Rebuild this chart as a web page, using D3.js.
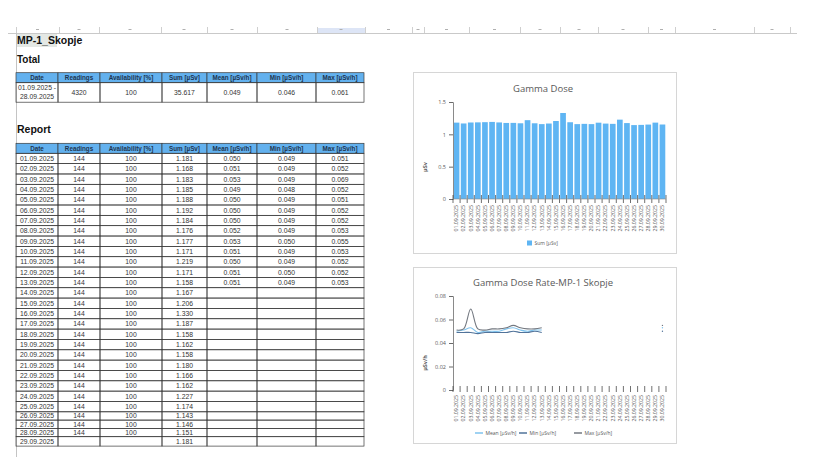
<!DOCTYPE html><html><head><meta charset="UTF-8"><script src="https://d3js.org/d3.v7.min.js"></script><style>
body { margin: 0; background: #fff; }
svg { display: block; }
.sheet { font-family: "Liberation Sans", Arial, sans-serif; }
.chartText { font-family: "Open Sans", "Liberation Sans", sans-serif; fill: #595959; }
</style></head><body><div id="chart"></div><script>
// ---- data ----
const headers = ["Date", "Readings", "Availability [%]", "Sum [µSv]", "Mean [µSv/h]", "Min [µSv/h]", "Max [µSv/h]"];
const totalRow = [["01.09.2025 -", "28.09.2025"], "4320", "100", "35.617", "0.049", "0.046", "0.061"];

const chartDates = ["01.09.2025", "02.09.2025", "03.09.2025", "04.09.2025", "05.09.2025", "06.09.2025",
  "07.09.2025", "08.09.2025", "09.09.2025", "10.09.2025", "11.09.2025", "12.09.2025", "13.09.2025",
  "14.09.2025", "15.09.2025", "16.09.2025", "17.09.2025", "18.09.2025", "19.09.2025", "20.09.2025",
  "21.09.2025", "22.09.2025", "23.09.2025", "24.09.2025", "25.09.2025", "26.09.2025", "27.09.2025",
  "28.09.2025", "29.09.2025", "30.09.2025"];
const readings = [144, 144, 144, 144, 144, 144, 144, 144, 144, 144, 144, 144, 144, 144,
  144, 144, 144, 144, 144, 144, 144, 144, 144, 144, 144, 144, 144, 144, null];
const availability = [100, 100, 100, 100, 100, 100, 100, 100, 100, 100, 100, 100, 100, 100,
  100, 100, 100, 100, 100, 100, 100, 100, 100, 100, 100, 100, 100, 100, null];
const sums = [1.181, 1.168, 1.183, 1.185, 1.188, 1.192, 1.184, 1.176, 1.177, 1.171, 1.219, 1.171,
  1.158, 1.167, 1.206, 1.330, 1.187, 1.158, 1.162, 1.158, 1.180, 1.166, 1.162, 1.227, 1.174,
  1.143, 1.146, 1.151, 1.181, 1.152];
const means = [0.050, 0.051, 0.053, 0.049, 0.050, 0.050, 0.050, 0.052, 0.053, 0.051, 0.050, 0.051, 0.051,
  null, null, null, null, null, null, null, null, null, null, null, null, null, null, null, null, 0.053];
const mins = [0.049, 0.049, 0.049, 0.048, 0.049, 0.049, 0.049, 0.049, 0.050, 0.049, 0.049, 0.050, 0.049,
  null, null, null, null, null, null, null, null, null, null, null, null, null, null, null, null, 0.050];
const maxs = [0.051, 0.052, 0.069, 0.052, 0.051, 0.052, 0.052, 0.053, 0.055, 0.053, 0.052, 0.052, 0.053,
  null, null, null, null, null, null, null, null, null, null, null, null, null, null, null, null, 0.055];
const tableRows = 29;
const doseTicks = [0, 0.5, 1, 1.5];
const rateTicks = [0, 0.02, 0.04, 0.06, 0.08];
const rateSeries = [
  {name: "Mean [µSv/h]", values: means, color: "#7fc3ee"},
  {name: "Min [µSv/h]", values: mins, color: "#51739a"},
  {name: "Max [µSv/h]", values: maxs, color: "#737880"}
];

const svg = d3.select('#chart').append('svg')
  .attr('width', 821).attr('height', 457);

// ---- sheet chrome ----
const sheetTop = svg.append('g').attr('class', 'sheet');
const colMarks = [16, 59, 99, 161, 207, 257, 317, 365, 412, 424, 469, 520, 560, 598, 648, 675, 754, 790];
sheetTop.append('rect').attr('x', 317).attr('y', 28).attr('width', 48).attr('height', 5).attr('fill', '#dde5f6');
sheetTop.append('line').attr('x1', 8).attr('x2', 797).attr('y1', 33.5).attr('y2', 33.5).attr('stroke', '#c9c9c9');
sheetTop.selectAll('.sep').data(colMarks).enter().append('line')
  .attr('x1', d => d + 0.5).attr('x2', d => d + 0.5).attr('y1', 27).attr('y2', 33)
  .attr('stroke', '#cfcfcf');
sheetTop.selectAll('.dash').data(d3.pairs(colMarks)).enter().append('line')
  .attr('x1', d => (d[0] + d[1]) / 2 - 1.5).attr('x2', d => (d[0] + d[1]) / 2 + 1.5)
  .attr('y1', 29.5).attr('y2', 29.5).attr('stroke', '#b0b0b0');
sheetTop.append('line').attr('x1', 16.5).attr('x2', 16.5).attr('y1', 33).attr('y2', 457).attr('stroke', '#c4c4c4');
sheetTop.append('rect').attr('x', 17).attr('y', 34).attr('width', 40).attr('height', 13).attr('fill', '#e4e8e4');

sheetTop.append('text').attr('x', 17).attr('y', 44).attr('font-size', 10.5).attr('font-weight', 'bold')
  .attr('fill', '#111').text('MP-1_Skopje');
sheetTop.append('text').attr('x', 17).attr('y', 63).attr('font-size', 10).attr('font-weight', 'bold')
  .attr('fill', '#111').text('Total');
sheetTop.append('text').attr('x', 17).attr('y', 133).attr('font-size', 10.5).attr('font-weight', 'bold')
  .attr('fill', '#111').text('Report');

// ---- tables ----
const colEdges = [16, 58, 100, 162, 207, 257, 316, 364];
const colMid = i => (colEdges[i] + colEdges[i + 1]) / 2;

function headerRow(g, y, h) {
  g.selectAll('.hcell').data(headers).enter().append('rect')
    .attr('x', (d, i) => colEdges[i]).attr('y', y)
    .attr('width', (d, i) => colEdges[i + 1] - colEdges[i]).attr('height', h)
    .attr('fill', '#63b1ee').attr('stroke', '#3a3a3a').attr('stroke-width', 0.7);
  g.selectAll('.htext').data(headers).enter().append('text')
    .attr('x', (d, i) => colMid(i)).attr('y', y + h / 2 + 2.3)
    .attr('text-anchor', 'middle').attr('font-size', 6.3).attr('font-weight', 'bold')
    .attr('fill', '#1d3550').text(d => d);
}

function cellRow(g, y, h, cells, baseline) {
  cells.forEach((c, i) => {
    g.append('rect').attr('x', colEdges[i]).attr('y', y)
      .attr('width', colEdges[i + 1] - colEdges[i]).attr('height', h)
      .attr('fill', 'none').attr('stroke', '#3a3a3a').attr('stroke-width', 0.7);
    if (c == null) return;
    const lines = Array.isArray(c) ? c : [c];
    lines.forEach((t, k) => {
      g.append('text').attr('x', colMid(i))
        .attr('y', lines.length > 1 ? y + 7.5 + k * 8.5 : baseline)
        .attr('text-anchor', 'middle').attr('font-size', 6.8).attr('fill', '#333').text(t);
    });
  });
}

const totalG = svg.append('g').attr('class', 'sheet');
headerRow(totalG, 72.7, 10);
cellRow(totalG, 82.7, 19.5, totalRow, 95);

const reportG = svg.append('g').attr('class', 'sheet');
headerRow(reportG, 143.3, 10);
const fmt = d3.format('.3f');
let rowTop = 153.3;
for (let i = 0; i < tableRows; i++) {
  const h = (i >= 25 && i <= 27) ? 8.3 : (i === 28 ? 9.4 : 10.34);
  const baseline = Math.min(rowTop + h / 2 + 2.4, rowTop + h - 0.6);
  cellRow(reportG, rowTop, h, [
    chartDates[i],
    readings[i] == null ? null : String(readings[i]),
    availability[i] == null ? null : String(availability[i]),
    fmt(sums[i]),
    means[i] == null ? null : fmt(means[i]),
    mins[i] == null ? null : fmt(mins[i]),
    maxs[i] == null ? null : fmt(maxs[i])
  ], baseline);
  rowTop += h;
}

// ---- chart 1: Gamma Dose ----
const c1 = svg.append('g');
c1.append('rect').attr('x', 413.5).attr('y', 72.5).attr('width', 263).attr('height', 181)
  .attr('fill', '#fff').attr('stroke', '#d6d6d6');
c1.append('text').attr('class', 'chartText').attr('x', 543).attr('y', 91.5)
  .attr('text-anchor', 'middle').attr('font-size', 9.5).text('Gamma Dose');

const x1 = d3.scaleBand().domain(chartDates).range([453, 666]).paddingInner(0.2).paddingOuter(0.1);
const y1 = d3.scaleLinear().domain([0, 1.5]).range([199, 102]);

c1.selectAll('.bar').data(chartDates).enter().append('rect')
  .attr('x', d => x1(d)).attr('width', x1.bandwidth())
  .attr('y', (d, i) => y1(sums[i])).attr('height', (d, i) => y1(0) - y1(sums[i]))
  .attr('fill', '#5fb5f3');

const ax1 = c1.append('g').attr('transform', 'translate(453,0)')
  .call(d3.axisLeft(y1).tickValues(doseTicks).tickSize(4).tickPadding(3).tickFormat(d3.format('~g')));
ax1.select('.domain').attr('stroke', '#8a8a8a');
ax1.selectAll('.tick line').attr('stroke', '#6a6a6a');
ax1.selectAll('text').attr('class', 'chartText').attr('font-size', 5.5);

c1.selectAll('.xt').data(d3.range(chartDates.length + 1)).enter().append('line')
  .attr('x1', i => 453 + i * (666 - 453) / chartDates.length).attr('x2', i => 453 + i * (666 - 453) / chartDates.length)
  .attr('y1', 195).attr('y2', 203).attr('stroke', '#333').attr('stroke-width', 0.7);
c1.append('line').attr('x1', 453).attr('x2', 666).attr('y1', 199).attr('y2', 199).attr('stroke', '#8a8a8a').attr('stroke-width', 0.6);
c1.selectAll('.xl').data(chartDates).enter().append('text').attr('class', 'chartText')
  .attr('transform', d => `translate(${x1(d) + x1.bandwidth() / 2 + 1.8},205) rotate(-90)`)
  .attr('text-anchor', 'end').attr('font-size', 5.2).text(d => d);
c1.append('text').attr('class', 'chartText')
  .attr('transform', 'translate(427,167) rotate(-90)')
  .attr('text-anchor', 'middle').attr('font-size', 5.5).attr('font-weight', 'bold').attr('fill', '#404040').text('µSv');
c1.append('rect').attr('x', 527).attr('y', 240.5).attr('width', 5).attr('height', 5).attr('fill', '#5fb5f3');
c1.append('text').attr('class', 'chartText').attr('x', 534.5).attr('y', 245)
  .attr('font-size', 5).text('Sum [µSv]');

// ---- chart 2: Gamma Dose Rate ----
const c2 = svg.append('g');
c2.append('rect').attr('x', 413.5).attr('y', 267.5).attr('width', 263).attr('height', 176)
  .attr('fill', '#fff').attr('stroke', '#d6d6d6');
c2.append('text').attr('class', 'chartText').attr('x', 543).attr('y', 286)
  .attr('text-anchor', 'middle').attr('font-size', 9.5).text('Gamma Dose Rate-MP-1 Skopje');

const x2 = d3.scaleBand().domain(chartDates).range([453, 666]);
const y2 = d3.scaleLinear().domain([0, 0.08]).range([390, 296]);
const cx2 = d => x2(d) + x2.bandwidth() / 2;

const ax2 = c2.append('g').attr('transform', 'translate(453,0)')
  .call(d3.axisLeft(y2).tickValues(rateTicks).tickSize(4).tickPadding(3).tickFormat(d => d === 0 ? '0' : d3.format('.2f')(d)));
ax2.select('.domain').attr('stroke', '#8a8a8a');
ax2.selectAll('.tick line').attr('stroke', '#6a6a6a');
ax2.selectAll('text').attr('class', 'chartText').attr('font-size', 5.5);

c2.selectAll('.xt').data(d3.range(chartDates.length + 1)).enter().append('line')
  .attr('x1', i => 453 + i * x2.step()).attr('x2', i => 453 + i * x2.step())
  .attr('y1', 386).attr('y2', 392).attr('stroke', '#333').attr('stroke-width', 0.7);
c2.selectAll('.xl').data(chartDates).enter().append('text').attr('class', 'chartText')
  .attr('transform', d => `translate(${cx2(d) + 1.8},395) rotate(-90)`)
  .attr('text-anchor', 'end').attr('font-size', 5.2).text(d => d);
c2.append('text').attr('class', 'chartText')
  .attr('transform', 'translate(427,363) rotate(-90)')
  .attr('text-anchor', 'middle').attr('font-size', 5.5).attr('font-weight', 'bold').attr('fill', '#404040').text('µSv/h');

const line = d3.line()
  .defined(d => d.v != null)
  .x(d => cx2(d.date)).y(d => y2(d.v))
  .curve(d3.curveCatmullRom.alpha(0.5));
rateSeries.forEach(s => {
  const pts = chartDates.map((date, i) => ({date, v: s.values[i]}));
  c2.append('path').datum(pts).attr('d', line)
    .attr('fill', 'none').attr('stroke', s.color).attr('stroke-width', 1.1);
  // isolated points show only as specks
  c2.selectAll(null).data(pts.filter((p, i) => p.v != null &&
      (i === 0 || pts[i - 1].v == null) && (i === pts.length - 1 || pts[i + 1].v == null)))
    .enter().append('circle')
    .attr('cx', d => cx2(d.date)).attr('cy', d => y2(d.v)).attr('r', 0.7).attr('fill', s.color);
});

const legendX = [475, 519, 574];
rateSeries.forEach((s, i) => {
  c2.append('line').attr('x1', legendX[i]).attr('x2', legendX[i] + 8)
    .attr('y1', 433).attr('y2', 433).attr('stroke', s.color).attr('stroke-width', 1.5);
  c2.append('text').attr('class', 'chartText').attr('x', legendX[i] + 10.5).attr('y', 435)
    .attr('font-size', 5).text(s.name);
});
</script></body></html>
